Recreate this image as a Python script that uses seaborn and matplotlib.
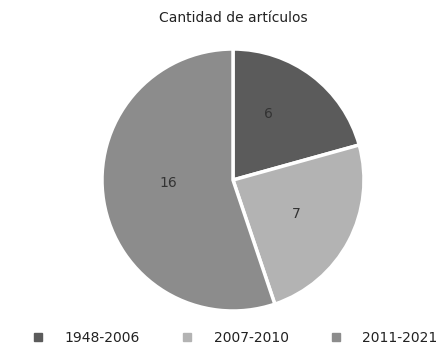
import matplotlib
matplotlib.use("Agg")
import matplotlib.pyplot as plt
import seaborn as sns
from matplotlib.lines import Line2D

categories = ["1948-2006", "2007-2010", "2011-2021"]
values = [6, 7, 16]
colors = ["#5b5b5b", "#b3b3b3", "#8c8c8c"]

sns.set_theme(style="white")
plt.rcParams['font.family'] = ['DejaVu Sans']

fig = plt.figure(figsize=(4.47, 3.47), dpi=100)
ax = fig.add_axes([0.0, 0.0, 1.0, 1.0])
pal = sns.color_palette(colors)
wedges, texts = ax.pie(values, colors=pal, startangle=90, counterclock=False,
                       labels=[str(v) for v in values], labeldistance=0.55,
                       center=(0, 0), radius=1.0,
                       wedgeprops=dict(edgecolor="white", linewidth=2.5),
                       textprops=dict(color="#333333", fontsize=10))
W, H = 447, 347
r = 131
cx, cy = 233, 180
# small label nudges (pixels) to match reference placement
nudges = [(-8, 9), (0, 0), (6, 9)]
for t, (dx, dy) in zip(texts, nudges):
    t.set_horizontalalignment("center")
    t.set_verticalalignment("center")
    x, y = t.get_position()
    t.set_position((x + dx / r, y + dy / r))
ax.set_aspect("equal")
ax.set_xlim(-cx / r, (W - cx) / r)
ax.set_ylim(-(H - cy) / r, cy / r)
ax.axis("off")

fig.text(233 / W, 1 - 18 / H, "Cantidad de artículos", ha="center", va="center",
         fontsize=10, color="#222222")

handles = [Line2D([0], [0], marker="s", linestyle="", markersize=6,
                  markerfacecolor=c, markeredgecolor=c) for c in colors]
leg = fig.legend(handles, categories, loc="center",
                 bbox_to_anchor=(0.5 + 11 / W, 1 - 338 / H),
                 ncol=3, frameon=False, fontsize=10, handletextpad=1.4,
                 columnspacing=2.9, handlelength=1.0)
for t in leg.get_texts():
    t.set_color("#222222")

fig.savefig("out.png", dpi=100)
